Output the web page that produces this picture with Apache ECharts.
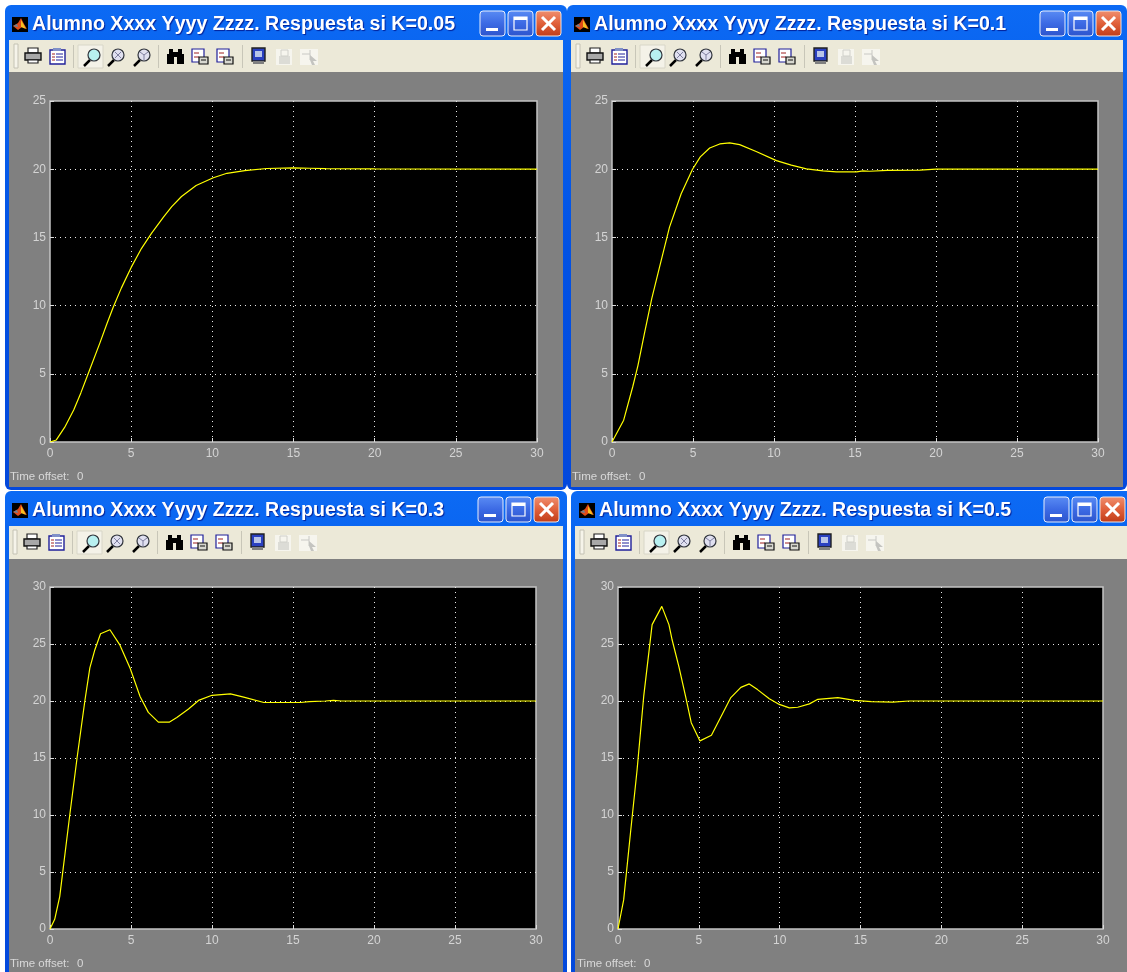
<!DOCTYPE html>
<html>
<head>
<meta charset="utf-8">
<title>Respuesta</title>
<style>
html, body { margin: 0; padding: 0; background: #fff; }
#main { width: 1127px; height: 972px; }
</style>
<script src="https://cdn.jsdelivr.net/npm/echarts@6/dist/echarts.min.js"></script>
</head>
<body>
<div id="main"></div>
<script>
var tK005 = [0, 0.39, 0.9, 1.46, 1.9, 2.35, 3.07, 3.5, 3.9, 4.4, 5, 5.64, 6.25, 7, 7.5, 8.1, 9, 10.06, 10.9, 12, 13.35, 15, 16, 17, 20, 30];
var yK005 = [0, 0.15, 1.07, 2.34, 3.6, 5, 7.25, 8.65, 9.9, 11.3, 12.8, 14.2, 15.3, 16.5, 17.25, 18, 18.8, 19.37, 19.7, 19.9, 20.05, 20.1, 20.07, 20.04, 20.02, 20];
var tK01 = [0, 0.72, 1.28, 1.6, 2, 2.45, 2.93, 3.55, 4.27, 4.97, 5.45, 6.03, 6.65, 7.26, 7.88, 8.9, 10.15, 11.07, 12, 13.03, 13.85, 15.1, 15.5, 15.9, 17, 19, 20, 30];
var yK01 = [0, 1.6, 4.05, 5.6, 7.95, 10.5, 12.8, 15.75, 18.2, 20, 20.9, 21.55, 21.85, 21.93, 21.8, 21.3, 20.63, 20.3, 20.02, 19.88, 19.8, 19.8, 19.88, 19.85, 19.92, 19.93, 20, 20];
var tK03 = [0, 0.29, 0.6, 1.22, 1.67, 2.15, 2.46, 2.77, 3.12, 3.7, 4.32, 4.94, 5.56, 6.07, 6.69, 7.38, 7.83, 8.55, 9.17, 10, 11.14, 11.96, 13.2, 15.47, 16, 17, 17.5, 18, 30];
var yK03 = [0, 0.85, 2.84, 10, 15, 20, 22.9, 24.5, 25.9, 26.25, 24.9, 22.9, 20.4, 19, 18.15, 18.15, 18.55, 19.3, 20.05, 20.5, 20.63, 20.34, 19.87, 19.87, 19.95, 20, 20.05, 20, 20];
var tK05 = [0, 0.35, 0.77, 1.18, 1.59, 2.11, 2.71, 3.15, 3.35, 3.77, 4.18, 4.53, 5.07, 5.78, 6.36, 6.98, 7.6, 8.12, 8.63, 9.36, 9.98, 10.6, 11.12, 11.84, 12.36, 13.6, 14.64, 15.67, 17, 18, 30];
var yK05 = [0, 2.55, 8.4, 13.95, 20.4, 26.7, 28.3, 26.7, 25.35, 23, 20.4, 18.1, 16.5, 17, 18.6, 20.3, 21.2, 21.5, 21, 20.2, 19.7, 19.4, 19.45, 19.75, 20.15, 20.3, 20.05, 19.95, 19.9, 20, 20];
var titleK005 = 'Alumno Xxxx Yyyy Zzzz. Respuesta si K=0.05';
var titleK01 = 'Alumno Xxxx Yyyy Zzzz. Respuesta si K=0.1';
var titleK03 = 'Alumno Xxxx Yyyy Zzzz. Respuesta si K=0.3';
var titleK05 = 'Alumno Xxxx Yyyy Zzzz. Respuesta si K=0.5';
var timeOffsetLabel = 'Time offset:';
var timeOffsetValue = '0';

function pairs(t, y) {
    return t.map(function (v, i) { return [v, y[i]]; });
}

// one entry per scope window, gl/gr/gt/gb is the plot box in pixels
var windows = [
    { title: titleK005, t: tK005, y: yK005, yMax: 25, left: 5, right: 567, top: 5, bar: 35, tool: 32, bottom: 490, textX: 32, iconX: 0, btnX: 480, gl: 50, gr: 537, gt: 101, gb: 442, offX: 10, offY: 477 },
    { title: titleK01, t: tK01, y: yK01, yMax: 25, left: 567, right: 1127, top: 5, bar: 35, tool: 32, bottom: 490, textX: 594, iconX: 562, btnX: 1040, gl: 612, gr: 1098, gt: 101, gb: 442, offX: 572, offY: 477 },
    { title: titleK03, t: tK03, y: yK03, yMax: 30, left: 5, right: 567, top: 491, bar: 35, tool: 33, bottom: 980, textX: 32, iconX: -1, btnX: 478, gl: 50, gr: 536, gt: 587, gb: 929, offX: 10, offY: 964 },
    { title: titleK05, t: tK05, y: yK05, yMax: 30, left: 571, right: 1132, top: 491, bar: 35, tool: 33, bottom: 980, textX: 599, iconX: 566, btnX: 1044, gl: 618, gr: 1103, gt: 587, gb: 929, offX: 577, offY: 964 }
];

var dark = '#000000';
function rect(x, y, w, h, fill, extra) {
    var el = { type: 'rect', shape: { x: x, y: y, width: w, height: h, r: (extra && extra.r) || 0 }, style: { fill: fill, stroke: (extra && extra.stroke) || null, lineWidth: (extra && extra.lw) || 0 } };
    return el;
}
function line(x1, y1, x2, y2, color, lw) {
    return { type: 'line', shape: { x1: x1, y1: y1, x2: x2, y2: y2 }, style: { stroke: color, lineWidth: lw || 1 } };
}
function circle(cx, cy, r, fill, stroke, lw) {
    return { type: 'circle', shape: { cx: cx, cy: cy, r: r }, style: { fill: fill, stroke: stroke, lineWidth: lw || 1 } };
}
function poly(points, fill) {
    return { type: 'polygon', shape: { points: points }, style: { fill: fill } };
}
function vgrad(a, b, c) {
    return { type: 'linear', x: 0, y: 0, x2: 0, y2: 1, colorStops: [{ offset: 0, color: a }, { offset: 0.5, color: b }, { offset: 1, color: c }] };
}

function magnifier(x, fill, mark) {
    var c = [
        line(x + 1, 66, x + 7, 60, dark, 2.5),
        circle(x + 11, 55, 6, fill, '#30343c', 1.2)
    ];
    if (mark === 'x') {
        c.push(line(x + 8, 52, x + 14, 58, '#8080a0', 1), line(x + 14, 52, x + 8, 58, '#8080a0', 1));
    }
    if (mark === 'y') {
        c.push(line(x + 11, 55, x + 11, 60, '#8080a0', 1), line(x + 11, 55, x + 7, 52, '#8080a0', 1), line(x + 11, 55, x + 15, 52, '#8080a0', 1));
    }
    return c;
}
function scopeIcon(x) {
    return [
        rect(x, 49, 12, 13, '#fff', { stroke: '#20209a', lw: 1.2 }),
        line(x + 2, 53, x + 7, 53, '#a02020', 1),
        line(x + 2, 57, x + 7, 57, '#a02020', 1),
        rect(x + 7, 57, 9, 7, '#d8d8d0', { stroke: '#101010', lw: 1.2 }),
        line(x + 9, 60, x + 14, 60, '#101010', 1)
    ];
}

// toolbar glyphs, x given relative to the first window
function toolbarIcons() {
    var c = [];
    c.push(rect(14, 44, 4, 24, '#f6f4ea', { stroke: '#c4c2b4', lw: 1 }));
    // printer
    c.push(rect(28, 48, 10, 5, '#fff', { stroke: '#202020', lw: 1.2 }));
    c.push(rect(25, 53, 16, 7, '#a8a8a8', { stroke: '#101010', lw: 1.4 }));
    c.push(rect(28, 60, 10, 3, '#fff', { stroke: '#202020', lw: 1.2 }));
    // clipboard list
    c.push(rect(50, 50, 15, 14, '#fff', { stroke: '#20209a', lw: 1.4 }));
    c.push(rect(53, 48, 8, 3, '#8090c8'));
    c.push(line(52, 54, 55, 54, '#a02020', 1), line(56, 54, 63, 54, '#20209a', 1));
    c.push(line(52, 57, 55, 57, '#a02020', 1), line(56, 57, 63, 57, '#20209a', 1));
    c.push(line(52, 60, 55, 60, '#a02020', 1), line(56, 60, 63, 60, '#20209a', 1));
    c.push(line(73.5, 45, 73.5, 68, '#c8c6b8', 1));
    // pressed zoom button
    c.push(rect(78, 45, 25, 23, '#f4f2e8', { stroke: '#d8d6c8', lw: 1 }));
    c = c.concat(magnifier(83, '#b8f0f0', ''));
    c = c.concat(magnifier(107, '#e0e0f0', 'x'));
    c = c.concat(magnifier(133, '#e0e0f0', 'y'));
    c.push(line(158.5, 45, 158.5, 68, '#c8c6b8', 1));
    // binoculars
    c.push(rect(167, 54, 7, 10, dark), rect(177, 54, 7, 10, dark), rect(169, 49, 4, 6, dark), rect(178, 49, 4, 6, dark), rect(173, 52, 5, 5, dark));
    c = c.concat(scopeIcon(192), scopeIcon(217));
    c.push(line(242.5, 45, 242.5, 68, '#c8c6b8', 1));
    // block
    c.push(rect(252, 48, 13, 13, '#2a40c0', { stroke: '#202020', lw: 1.4 }));
    c.push(rect(255, 51, 7, 6, '#b8c4e8'));
    c.push(rect(253, 61, 11, 3, '#808080'));
    // disabled lock and pointer
    c.push(rect(276, 49, 16, 16, '#f6f5ee'), rect(279, 56, 11, 8, '#dcdcd6'), rect(281, 50, 7, 6, '#f6f5ee', { stroke: '#d0d0ca', lw: 1 }));
    c.push(rect(300, 49, 18, 16, '#f6f5ee'), line(302, 54, 310, 54, '#c8c8c4', 1), line(310, 50, 310, 60, '#c8c8c4', 1));
    c.push(poly([[310, 55], [317, 61], [313, 61], [315, 65], [312, 65], [310, 60]], '#c4c4c0'));
    return c;
}

function captionButtons(x, y) {
    var c = [];
    var minFill = vgrad('#5a8cf4', '#3c6ae4', '#2c54cc');
    var closeFill = vgrad('#f09070', '#e0603a', '#c03c18');
    c.push(rect(x, y, 25, 25, minFill, { r: 3, stroke: '#e8eefc', lw: 1 }));
    c.push(rect(x + 6, y + 17, 12, 3, '#fff'));
    c.push(rect(x + 28, y, 25, 25, minFill, { r: 3, stroke: '#e8eefc', lw: 1 }));
    c.push(rect(x + 34, y + 6, 13, 13, 'transparent', { stroke: '#fff', lw: 1.2 }));
    c.push(rect(x + 34, y + 6, 13, 3, '#fff'));
    c.push(rect(x + 56, y, 25, 25, closeFill, { r: 3, stroke: '#f0e8e4', lw: 1 }));
    c.push(line(x + 62, y + 6, x + 75, y + 19, '#fff', 3));
    c.push(line(x + 75, y + 6, x + 62, y + 19, '#fff', 3));
    return c;
}

function matlabLogo(x, y) {
    return [
        rect(x, y, 16, 15, '#000'),
        poly([[x + 1, y + 9], [x + 6, y + 6], [x + 9, y + 1], [x + 12, y + 7], [x + 15, y + 12], [x + 10, y + 10], [x + 6, y + 13]], '#e04a18'),
        poly([[x + 9, y + 3], [x + 12, y + 8], [x + 14, y + 12], [x + 9, y + 10]], '#f6c020'),
        poly([[x + 1, y + 9], [x + 5, y + 7], [x + 6, y + 10]], '#6a8090')
    ];
}

function chrome(w) {
    var barTop = w.top;
    var toolTop = barTop + w.bar;
    var bodyTop = toolTop + w.tool;
    var shiftY = toolTop - 40;
    var els = [];
    els.push(rect(w.left, barTop, w.right - w.left, w.bottom - barTop, vgrad('#0c6af4', '#0252e4', '#0348dc'), { r: 6 }));
    els.push(rect(w.left + 4, toolTop, w.right - w.left - 8, w.tool, '#ece9d8'));
    els.push(rect(w.left + 4, bodyTop, w.right - w.left - 8, w.bottom - bodyTop - 3, '#808080'));
    els.push({ type: 'text', style: { x: w.textX, y: barTop + 20, text: w.title, fill: '#fff', font: 'bold 19.6px "Liberation Sans"', textVerticalAlign: 'middle', textShadowColor: '#00209a', textShadowOffsetX: 1, textShadowOffsetY: 1, textShadowBlur: 1 } });
    els.push({ type: 'group', x: w.textX - 20, y: barTop + 12, children: matlabLogo(0, 0) });
    els.push({ type: 'group', x: 0, y: barTop + 6, children: captionButtons(w.btnX, 0) });
    els.push({ type: 'group', x: w.iconX, y: shiftY, children: toolbarIcons() });
    els.push({ type: 'text', style: { x: w.offX, y: w.offY, text: timeOffsetLabel, fill: '#d8d8d8', font: '11.5px "Liberation Sans"', textVerticalAlign: 'middle' } });
    els.push({ type: 'text', style: { x: w.offX + 67, y: w.offY, text: timeOffsetValue, fill: '#d8d8d8', font: '11.5px "Liberation Sans"', textVerticalAlign: 'middle' } });
    return els;
}

var grids = [], xAxes = [], yAxes = [], series = [], graphics = [];
windows.forEach(function (w, i) {
    graphics = graphics.concat(chrome(w));
    // grid above the graphic layer, otherwise the gray body hides its black background
    grids.push({ z: 1, left: w.gl, top: w.gt, width: w.gr - w.gl, height: w.gb - w.gt, show: true, backgroundColor: '#000', borderColor: '#c4c4c4', borderWidth: 1.5 });
    var axisBits = {
        gridIndex: i,
        z: 2,
        type: 'value',
        min: 0,
        interval: 5,
        axisLine: { show: false },
        axisTick: { show: true, inside: true, length: 4, lineStyle: { color: '#ddd' } },
        splitLine: { show: true, showMinLine: false, showMaxLine: false, lineStyle: { color: '#e8e8e8', type: [1, 4], width: 1 } },
        axisLabel: { color: '#d4d4d4', fontFamily: 'Liberation Sans', fontSize: 12, margin: 6, hideOverlap: false, showMinLabel: true, showMaxLabel: true }
    };
    xAxes.push(Object.assign({}, axisBits, { max: 30 }));
    yAxes.push(Object.assign({}, axisBits, { max: w.yMax, axisLabel: Object.assign({}, axisBits.axisLabel, { margin: 4 }) }));
    series.push({
        type: 'line',
        z: 3,
        xAxisIndex: i,
        yAxisIndex: i,
        data: pairs(w.t, w.y),
        showSymbol: false,
        smooth: false,
        animation: false,
        clip: true,
        lineStyle: { color: '#ffff00', width: 1.2 }
    });
});

var chart = echarts.init(document.getElementById('main'), null, { renderer: 'canvas' });
chart.setOption({
    animation: false,
    backgroundColor: '#ffffff',
    graphic: { elements: graphics },
    grid: grids,
    xAxis: xAxes,
    yAxis: yAxes,
    series: series
});
</script>
</body>
</html>
